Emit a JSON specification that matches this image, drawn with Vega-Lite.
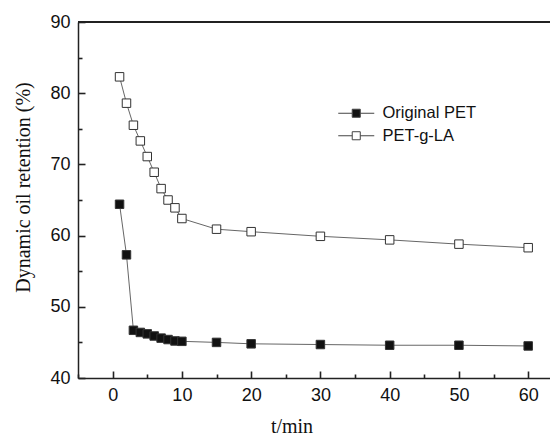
{
  "$schema": "https://vega.github.io/schema/vega-lite/v6.json",
  "autosize": "none",
  "width": 472,
  "height": 356,
  "padding": {"left": 78, "top": 22, "right": 0, "bottom": 57},
  "background": "white",
  "config": {
    "view": {"stroke": null},
    "axis": {
      "labelFont": "Liberation Sans",
      "labelFontSize": 18,
      "labelColor": "#111",
      "titleFont": "Liberation Serif",
      "titleFontSize": 20,
      "titleFontWeight": "normal",
      "titleColor": "#111",
      "domainColor": "#222",
      "domainWidth": 1.5,
      "tickColor": "#222",
      "tickWidth": 1.6,
      "grid": false
    }
  },
  "data": {
    "values": [
      {"t": 1, "v": 64.4, "series": "Original PET"},
      {"t": 2, "v": 57.3, "series": "Original PET"},
      {"t": 3, "v": 46.7, "series": "Original PET"},
      {"t": 4, "v": 46.4, "series": "Original PET"},
      {"t": 5, "v": 46.2, "series": "Original PET"},
      {"t": 6, "v": 45.9, "series": "Original PET"},
      {"t": 7, "v": 45.6, "series": "Original PET"},
      {"t": 8, "v": 45.4, "series": "Original PET"},
      {"t": 9, "v": 45.2, "series": "Original PET"},
      {"t": 10, "v": 45.15, "series": "Original PET"},
      {"t": 15, "v": 45.0, "series": "Original PET"},
      {"t": 20, "v": 44.8, "series": "Original PET"},
      {"t": 30, "v": 44.7, "series": "Original PET"},
      {"t": 40, "v": 44.6, "series": "Original PET"},
      {"t": 50, "v": 44.6, "series": "Original PET"},
      {"t": 60, "v": 44.5, "series": "Original PET"},
      {"t": 1, "v": 82.3, "series": "PET-g-LA"},
      {"t": 2, "v": 78.6, "series": "PET-g-LA"},
      {"t": 3, "v": 75.5, "series": "PET-g-LA"},
      {"t": 4, "v": 73.3, "series": "PET-g-LA"},
      {"t": 5, "v": 71.1, "series": "PET-g-LA"},
      {"t": 6, "v": 68.9, "series": "PET-g-LA"},
      {"t": 7, "v": 66.6, "series": "PET-g-LA"},
      {"t": 8, "v": 65.0, "series": "PET-g-LA"},
      {"t": 9, "v": 63.9, "series": "PET-g-LA"},
      {"t": 10, "v": 62.4, "series": "PET-g-LA"},
      {"t": 15, "v": 60.9, "series": "PET-g-LA"},
      {"t": 20, "v": 60.55, "series": "PET-g-LA"},
      {"t": 30, "v": 59.9, "series": "PET-g-LA"},
      {"t": 40, "v": 59.4, "series": "PET-g-LA"},
      {"t": 50, "v": 58.8, "series": "PET-g-LA"},
      {"t": 60, "v": 58.3, "series": "PET-g-LA"}
    ]
  },
  "layer": [
    {
      "mark": {"type": "rule", "color": "#222", "strokeWidth": 1.5},
      "encoding": {
        "y": {
          "datum": 90, "type": "quantitative",
          "axis": {
            "orient": "left",
            "values": [45, 55, 65, 75, 85],
            "offset": -4,
            "tickSize": 4,
            "labels": false,
            "domain": false,
            "title": null
          }
        }
      }
    },
    {
      "mark": {"type": "point", "opacity": 0},
      "encoding": {
        "x": {
          "field": "t", "type": "quantitative",
          "axis": {
            "orient": "bottom",
            "values": [-5, 5, 15, 25, 35, 45, 55],
            "offset": -4,
            "tickSize": 4,
            "labels": false,
            "domain": false,
            "title": null
          }
        },
        "y": {"field": "v", "type": "quantitative", "axis": null}
      }
    },
    {
      "mark": {"type": "line", "color": "#666", "strokeWidth": 1},
      "encoding": {
        "x": {
          "field": "t", "type": "quantitative",
          "scale": {"domain": [-5, 63.15], "nice": false, "zero": false},
          "axis": {
            "orient": "bottom",
            "values": [0, 10, 20, 30, 40, 50, 60],
            "ticks": false,
            "tickSize": 0,
            "labelPadding": 8,
            "title": "t/min",
            "titleX": 213.5,
            "titleY": 54,
            "titleAlign": "center",
            "titleBaseline": "alphabetic"
          }
        },
        "y": {
          "field": "v", "type": "quantitative",
          "scale": {"domain": [40, 90], "nice": false, "zero": false},
          "axis": {
            "orient": "left",
            "values": [40, 50, 60, 70, 80, 90],
            "ticks": false,
            "tickSize": 0,
            "labelPadding": 8,
            "title": "Dynamic oil retention (%)",
            "titleX": -55,
            "titleY": 165,
            "titleAngle": 270,
            "titleAlign": "center",
            "titleBaseline": "middle"
          }
        },
        "detail": {"field": "series"}
      }
    },
    {
      "mark": {"type": "point", "shape": "square", "filled": true, "size": 72, "stroke": "#333", "strokeWidth": 1, "opacity": 1},
      "encoding": {
        "x": {
          "field": "t", "type": "quantitative",
          "axis": {
            "orient": "bottom",
            "values": [0, 10, 20, 30, 40, 50, 60],
            "offset": -7,
            "tickSize": 7,
            "labels": false,
            "domain": false,
            "title": null
          }
        },
        "y": {
          "field": "v", "type": "quantitative",
          "axis": {
            "orient": "left",
            "values": [40, 50, 60, 70, 80, 90],
            "offset": -7,
            "tickSize": 7,
            "labels": false,
            "domain": false,
            "title": null
          }
        },
        "fill": {
          "field": "series", "type": "nominal",
          "scale": {"domain": ["Original PET", "PET-g-LA"], "range": ["#111", "#ffffff"]},
          "legend": {
            "title": null,
            "orient": "none",
            "legendX": 270,
            "legendY": 83,
            "padding": 0,
            "symbolType": "M-3,0H-0.67M0.67,0H3M-0.67,-0.67H0.67V0.67H-0.67Z",
            "symbolSize": 144,
            "symbolStrokeColor": "#444",
            "symbolStrokeWidth": 1,
            "labelOffset": 18,
            "labelFont": "Liberation Sans",
            "labelFontSize": 16.5,
            "labelColor": "#111",
            "rowPadding": 5.5
          }
        }
      }
    }
  ],
  "resolve": {"axis": {"x": "independent", "y": "independent"}}
}
